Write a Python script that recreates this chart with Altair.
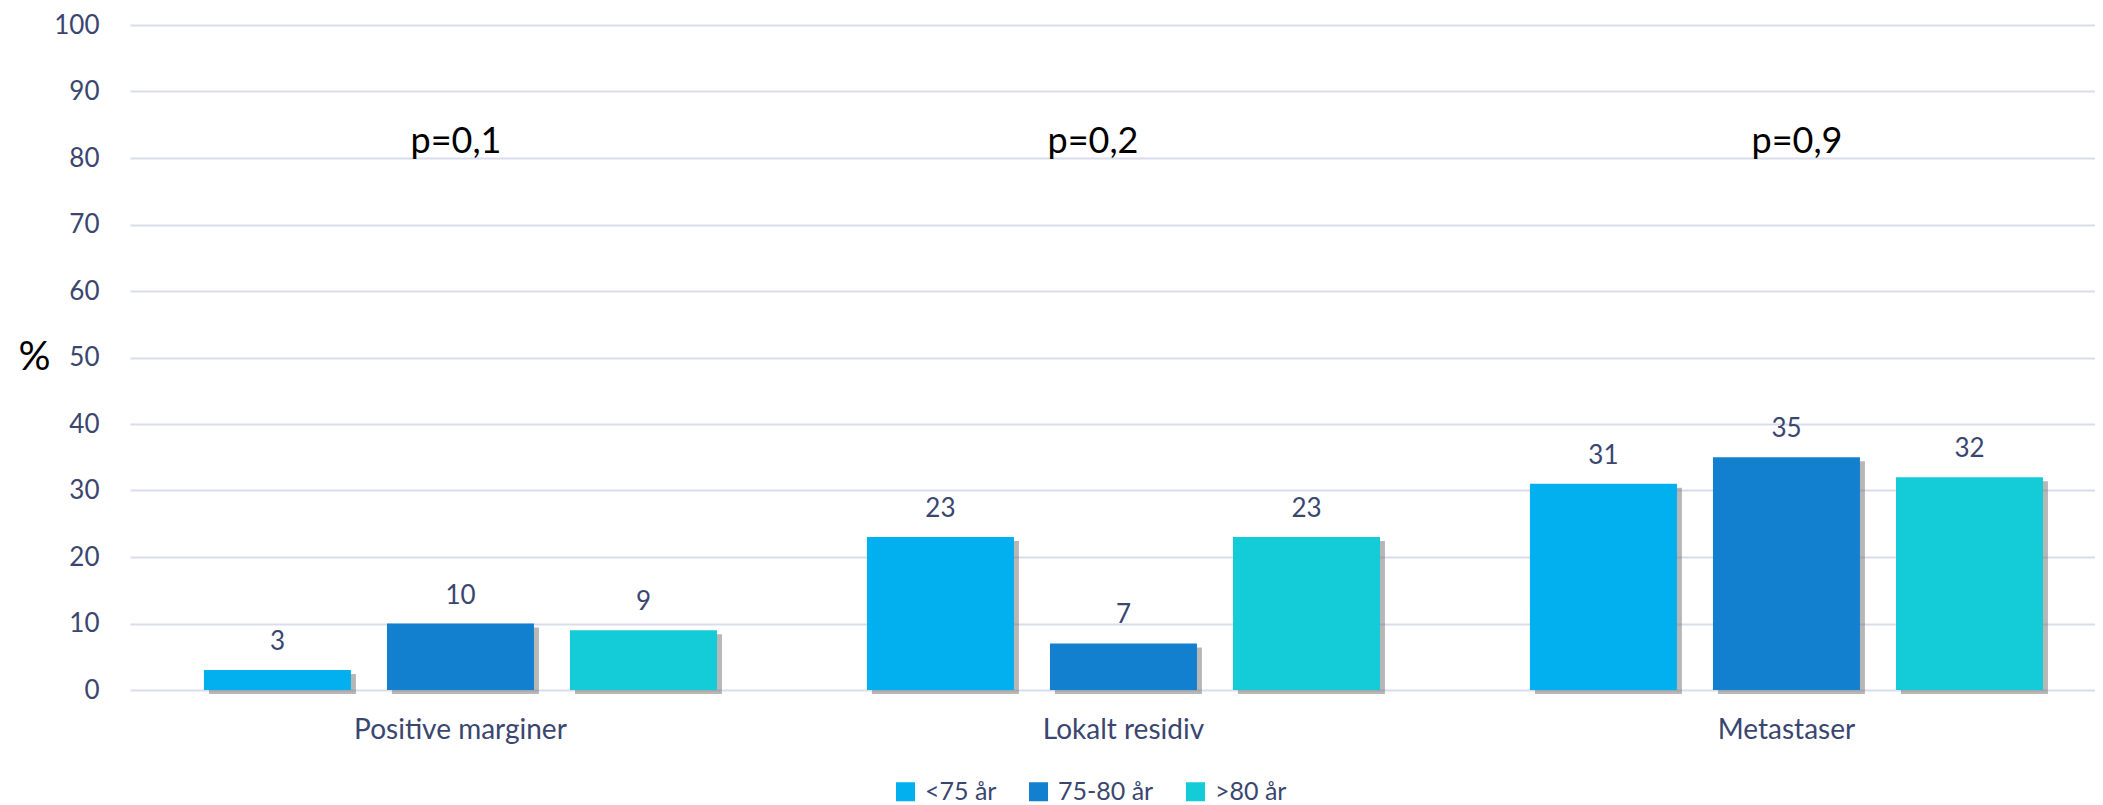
import altair as alt
import pandas as pd

categories = ["Positive marginer", "Lokalt residiv", "Metastaser"]
groups = ["<75 år", "75-80 år", ">80 år"]
values_lt75 = [3, 23, 31]
values_75_80 = [10, 7, 35]
values_gt80 = [9, 23, 32]
p_labels = ["p=0,1", "p=0,2", "p=0,9"]
y_ticks = [0, 10, 20, 30, 40, 50, 60, 70, 80, 90, 100]

rows = []
for i, c in enumerate(categories):
    for g, vals in zip(groups, [values_lt75, values_75_80, values_gt80]):
        rows.append({"kategori": c, "gruppe": g, "verdi": vals[i]})
df = pd.DataFrame(rows)

NAVY = "#3A4670"
GRID = "#D9DCEB"
FONT = "Lato"
colors = ["#02AFEF", "#127FCF", "#13CCD7"]

x_enc = alt.X(
    "kategori:N",
    sort=categories,
    scale=alt.Scale(paddingInner=0.2262, paddingOuter=0.095, align=0.587, round=False),
    axis=alt.Axis(title=None, labelAngle=0, labelFontSize=28, labelColor=NAVY,
                  labelFont=FONT, labelPadding=26, labelLimit=0, ticks=False,
                  domain=False, grid=False),
)
y_enc = alt.Y(
    "verdi:Q",
    scale=alt.Scale(domain=[0, 100], nice=False),
    axis=alt.Axis(values=y_ticks, title="%", titleAngle=0, titleX=-96, titleY=332,
                  titleAlign="center", titleBaseline="middle", titleFontSize=40,
                  titleColor="black", titleFontWeight="normal", titleFont=FONT,
                  labelFontSize=26, labelColor=NAVY, labelFont=FONT, labelPadding=31,
                  ticks=False, tickSize=0, domain=False, grid=True, gridColor=GRID,
                  gridWidth=2),
)
xo_enc = alt.XOffset("gruppe:N", sort=groups,
                     scale=alt.Scale(type="band", paddingInner=0.197, paddingOuter=0,
                                     round=False))
color_enc = alt.Color(
    "gruppe:N", sort=groups,
    scale=alt.Scale(domain=groups, range=colors),
    legend=alt.Legend(orient="none", legendX=763, legendY=754, direction="horizontal",
                      title=None, symbolType="square", symbolSize=361, symbolStrokeWidth=0,
                      symbolOpacity=1, labelFontSize=25, labelColor=NAVY, labelFont=FONT,
                      labelOffset=7, columnPadding=29, padding=0),
)

base = alt.Chart(df)

shadow = base.mark_bar(color="#6f6f6f", opacity=0.5, yOffset=4, y2Offset=4).encode(
    x=x_enc,
    xOffset=alt.XOffset("gruppe:N", sort=groups,
                        scale=alt.Scale(type="band", paddingInner=0.197, paddingOuter=0,
                                        round=False, range=[5, 518])),
    y=y_enc,
)

bars = base.mark_bar(opacity=1).encode(x=x_enc, xOffset=xo_enc, y=y_enc, color=color_enc)

labels = base.mark_text(fontSize=26, color=NAVY, font=FONT, baseline="alphabetic",
                        align="center", dy=-20).encode(
    x=x_enc, xOffset=xo_enc, y=y_enc, text=alt.Text("verdi:Q"))

main = alt.layer(bars, labels)

p_dx = [-4.5, -30.5, 10.5]
p_layers = []
for c, lab, d in zip(categories, p_labels, p_dx):
    p_df = pd.DataFrame({"kategori": [c], "tekst": [lab]})
    p_layers.append(
        alt.Chart(p_df).mark_text(fontSize=36, color="black", font=FONT, baseline="middle",
                                  align="center", dx=d).encode(
            x=alt.X("kategori:N", sort=categories),
            y=alt.datum(82.4),
            text="tekst:N",
        )
    )

chart = alt.layer(shadow, main, *p_layers).resolve_scale(
    xOffset="independent"
).properties(
    width=1965, height=665,
    autosize=alt.AutoSizeParams(type="none"),
    padding={"left": 122, "top": 17, "right": 0, "bottom": 115},
).configure_view(stroke=None)

chart.save("out.html", embed_options={"renderer": "svg", "actions": False})
